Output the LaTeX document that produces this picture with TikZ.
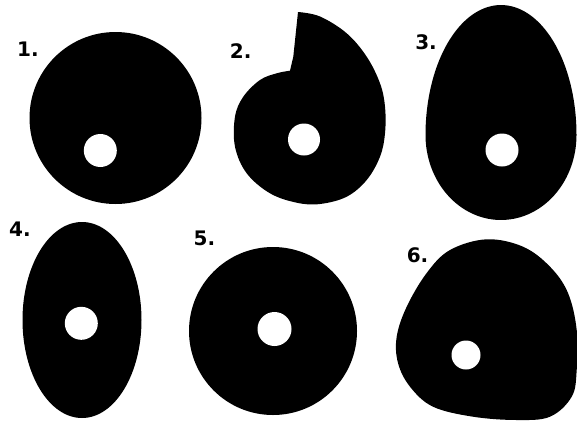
\documentclass[tikz,border=0pt]{standalone}
\usepackage{fontspec}
\setmainfont{DejaVu Sans}
\begin{document}
\begin{tikzpicture}[x=1pt,y=-1pt,
  lbl/.style={font=\bfseries\fontsize{20}{24}\selectfont, inner sep=0pt, text=black},
  blob/.style={fill=black},
  hole/.style={fill=white}]
\useasboundingbox[fill=white] (0,0) rectangle (577,431);
% 1 circle
\fill[blob] (115.5,118) circle[radius=86pt];
\fill[hole] (100.3,150.5) circle[radius=16.5pt];
% 2 spiral
\fill[blob] plot[smooth, tension=0.6] coordinates {(298,12) (320,16.5) (346.7,33.3) (366.7,56.7) (380,83.3) (385,106.7) (385,133.3) (380,156.7) (366.7,180) (346.7,196.7) (320,204) (296.7,202.7) (270,193.3) (246.7,173.3) (235,146.7) (235,116.7) (243.3,96.7) (260,80) (276.7,73.3) (290,70.7)} -- (293.3,56.7) -- cycle;
\fill[hole] (304,139.5) circle[radius=16pt];
% 3 egg
\fill[blob] plot[domain=0:360, samples=120, smooth] ({501+75.5*cos(\x)}, {135 + ((sin(\x)<0)*130 + (sin(\x)>=0)*85)*sin(\x)}) -- cycle;
\fill[hole] (502,150) circle[radius=16.5pt];
% 4 ellipse
\fill[blob] (82,320) ellipse[x radius=59.5pt, y radius=98pt];
\fill[hole] (81.3,323.3) circle[radius=16.5pt];
% 5 circle
\fill[blob] (273,331) circle[radius=84pt];
\fill[hole] (274.5,329) circle[radius=17pt];
% 6 rounded triangle
\fill[blob] plot[smooth cycle, tension=0.6] coordinates {(486.7,239.3) (523,246.7) (550,266.7) (568,293) (576.7,330) (576.7,370) (571.7,396.7) (550,416.7) (516.7,420) (473,416.7) (433,406.7) (410,386.7) (398,363) (396.7,336.7) (406.7,306.7) (426.7,273) (450,250)};
\fill[hole] (466,355) circle[radius=14.5pt];
% labels
\node[lbl] (l1) at (28,49) {1.};
\node[lbl] (l2) at (240.7,51) {2.};
\node[lbl] (l3) at (426,42) {3.};
\node[lbl] (l4) at (20,229.5) {4.};
\node[lbl] (l5) at (204.5,238.5) {5.};
\node[lbl] (l6) at (417.5,255) {6.};
\end{tikzpicture}
\end{document}
